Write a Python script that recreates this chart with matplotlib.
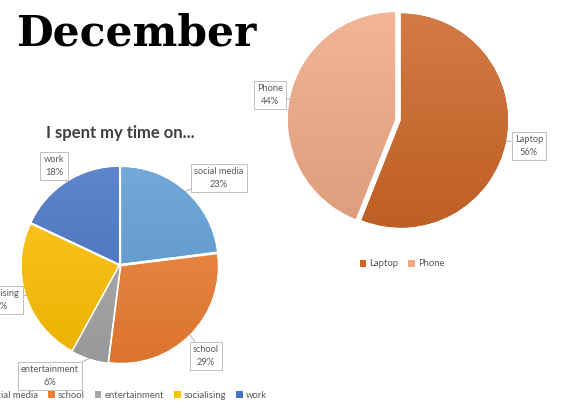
import matplotlib
matplotlib.use("Agg")
import matplotlib.pyplot as plt
import numpy as np
from matplotlib.colors import LinearSegmentedColormap, to_rgb

W, H = 562, 403

# how the month was spent
activities = ["social media", "school", "entertainment", "socialising", "work"]
activity_pct = [23, 29, 6, 24, 18]
activity_colors = ["#5B9BD5", "#ED7D31", "#A5A5A5", "#FFC000", "#4472C4"]

# which device it was spent on
devices = ["Laptop", "Phone"]
device_pct = [56, 44]
device_colors = ["#CD6526", "#F0A985"]

# layout, in pixels measured from the top-left corner
TIME_CENTER, TIME_R = (120, 265), 96
TIME_LABEL_POS = [(219, 178), (206, 356), (50, 376), (-1, 300), (54, 166)]
DEV_CENTER, DEV_R = (398, 120), 107
DEV_LABEL_POS = [(529, 146), (270, 95)]

TEXT_GREY = "#595959"
FONT = "Lato"


def px(x, y):
    return x, H - y


def draw_pie(ax, values, colors, center, radius, explode):
    cx, cy = px(*center)
    wedges, _ = ax.pie(values, colors=colors, startangle=90, counterclock=False,
                       center=(cx, cy), radius=radius,
                       explode=[explode] * len(values),
                       wedgeprops=dict(linewidth=0))
    # soft top-to-bottom shading on every slice
    grad = np.linspace(0, 1, 256).reshape(-1, 1)
    ext = radius * 1.1
    for w, c in zip(wedges, colors):
        base = np.array(to_rgb(c))
        cmap = LinearSegmentedColormap.from_list(
            "shade", [base + (1 - base) * 0.15, base * 0.92])
        im = ax.imshow(grad, cmap=cmap, origin="upper", interpolation="bilinear",
                       extent=(cx - ext, cx + ext, cy - ext, cy + ext),
                       zorder=w.get_zorder() + 0.5)
        im.set_clip_path(w)
    return wedges


def label_wedges(ax, wedges, names, values, positions):
    for w, name, v, pos in zip(wedges, names, values, positions):
        mid = np.deg2rad((w.theta1 + w.theta2) / 2)
        tip = (w.center[0] + w.r * np.cos(mid), w.center[1] + w.r * np.sin(mid))
        ax.annotate(f"{name}\n{v}%", xy=tip, xytext=px(*pos),
                    ha="center", va="center", fontsize=6.7, color=TEXT_GREY,
                    family=FONT, linespacing=1.5, zorder=6,
                    bbox=dict(boxstyle="square,pad=0.35", fc="white",
                              ec="#BFBFBF", lw=0.7),
                    arrowprops=dict(arrowstyle="-", color="#A6A6A6", lw=0.6,
                                    shrinkA=0, shrinkB=0))


fig = plt.figure(figsize=(W / 100, H / 100), dpi=100)
ax = fig.add_axes([0, 0, 1, 1])

time_wedges = draw_pie(ax, activity_pct, activity_colors, TIME_CENTER, TIME_R, 2.2)
label_wedges(ax, time_wedges, activities, activity_pct, TIME_LABEL_POS)

dev_wedges = draw_pie(ax, device_pct, device_colors, DEV_CENTER, DEV_R, 3.0)
label_wedges(ax, dev_wedges, devices, device_pct, DEV_LABEL_POS)

legend_kw = dict(loc="center", bbox_transform=ax.transData, frameon=False,
                 handlelength=0.7, handleheight=0.7, handletextpad=0.3,
                 columnspacing=1.1, labelcolor=TEXT_GREY,
                 prop=dict(family=FONT, size=6.8))
leg = ax.legend(time_wedges, activities, ncol=5, bbox_to_anchor=px(122, 395),
                **legend_kw)
ax.add_artist(leg)
ax.legend(dev_wedges, devices, ncol=2, bbox_to_anchor=px(402, 264), **legend_kw)

ax.text(*px(120, 133), "I spent my time on...", ha="center", va="center",
        fontsize=12, fontweight="bold", color="#404040", family=FONT)
ax.text(*px(16, 33), "December", ha="left", va="center", fontsize=30.5,
        fontweight="bold", color="black", family="DejaVu Serif")

ax.set_xlim(0, W)
ax.set_ylim(0, H)
ax.set_aspect("equal")
ax.axis("off")

fig.savefig("out.png", dpi=100)
